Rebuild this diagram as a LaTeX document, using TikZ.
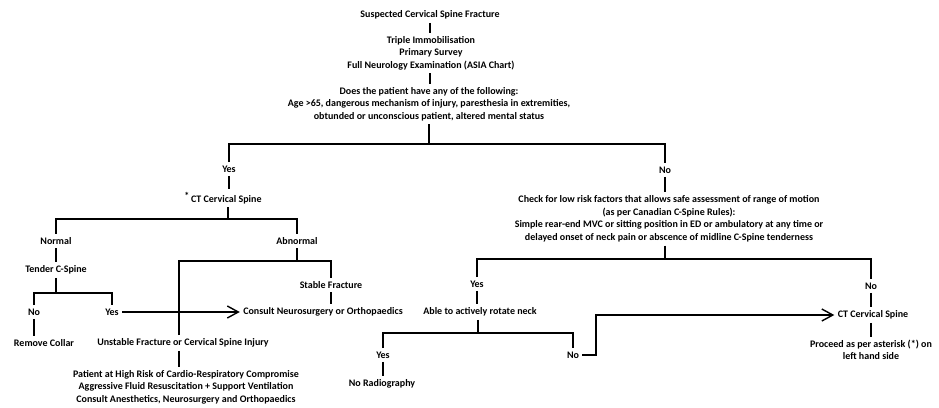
\documentclass[tikz,border=0pt]{standalone}
\usepackage{fontspec}
\setmainfont{Carlito}
\usetikzlibrary{arrows.meta,calc}

\begin{document}
\begin{tikzpicture}[x=1pt, y=-1pt,
  txt/.style={align=center, font=\fontsize{10}{12.5}\selectfont\bfseries, inner sep=2.5pt, outer sep=1pt},
  line/.style={line width=1.4pt},
  arrow/.style={line width=1.4pt, -{Straight Barb[length=11pt, width=12pt, line width=1.4pt]}},
]
\useasboundingbox (0,0) rectangle (939,407);

% === TOP ===
\node[txt] (susp) at (430,15) {Suspected Cervical Spine Fracture};
\node[txt] (triple) at (431,53) {Triple Immobilisation\\Primary Survey\\Full Neurology Examination (ASIA Chart)};
\node[txt] (ques) at (429,104) {Does the patient have any of the following:\\Age >65, dangerous mechanism of injury, paresthesia in extremities,\\obtunded or unconscious patient, altered mental status};

\coordinate (b1) at (429,144);
\draw[line] (susp) -- (susp |- triple.north);
\draw[line] (triple.south -| susp) -- (susp |- ques.north);
\draw[line] (ques) -- (b1);

% === LEFT: YES ===
\node[txt] (yes1) at (229,169) {Yes};
\node[txt] (ct1) at (223,198) {\raisebox{3pt}{*}\,CT Cervical Spine};
\node[txt] (normal) at (56,241) {Normal};
\node[txt] (abnormal) at (297,241) {Abnormal};
\node[txt] (tender) at (56,270) {Tender C-Spine};
\node[txt] (no1) at (34,312) {No};
\node[txt] (yes2) at (112,312) {Yes};
\node[txt] (remove) at (44,343) {Remove Collar};
\node[txt] (stable) at (331,285) {Stable Fracture};
\node[txt] (consult) at (323,312) {Consult Neurosurgery or Orthopaedics};
\node[txt] (unstable) at (183,343) {Unstable Fracture or Cervical Spine Injury};
\node[txt] (high) at (186,387) {Patient at High Risk of Cardio-Respiratory Compromise\\Aggressive Fluid Resuscitation + Support Ventilation\\Consult Anesthetics, Neurosurgery and Orthopaedics};

\coordinate (b2) at (228,219);
\coordinate (b3) at (297,261);
\coordinate (b3l) at (179,261);
\coordinate (b3r) at (331,261);
\coordinate (b4) at (56,293);

\draw[line] (yes1) -- (yes1 |- ct1.north);
\draw[line] (ct1.south -| b2) -- (b2);
\draw[line] (normal) |- (b2) -| (abnormal);
\draw[line] (normal) -- (tender);
\draw[line] (abnormal) -- (b3);
\draw[line] (unstable.north -| b3l) -- (b3l) -- (b3r) -- (stable);
\draw[line] (stable) -- (stable |- consult.north);
\draw[line] (unstable.south -| b3l) -- (b3l |- high.north);
\draw[line] (tender) -- (b4);
\draw[line] (no1) |- (b4) -| (yes2);
\draw[line] (no1) -- (no1 |- remove.north);
\draw[arrow] (yes2) -- (consult);

% === RIGHT: NO ===
\node[txt] (no2) at (665,170) {No};
\node[txt] (check) at (669,219) {Check for low risk factors that allows safe assessment of range of motion\\(as per Canadian C-Spine Rules):\\Simple rear-end MVC or sitting position in ED or ambulatory at any time or\\delayed onset of neck pain or abscence of midline C-Spine tenderness};
\node[txt] (yes3) at (477,284) {Yes};
\node[txt] (able) at (480,312) {Able to actively rotate neck};
\node[txt] (yes4) at (383,355) {Yes};
\node[txt] (norad) at (382,384) {No Radiography};
\node[txt] (no3) at (573,355) {No};
\node[txt] (no4) at (871,286) {No};
\node[txt] (ct2) at (873,315) {CT Cervical Spine};
\node[txt] (proceed) at (871,350) {Proceed as per asterisk (*) on\\left hand side};

\coordinate (b5) at (665,259);
\coordinate (b6) at (478,333);
\coordinate (k1) at (596,355);

\draw[line] (yes1) |- (b1) -| (no2);
\draw[line] (no2) -- (no2 |- check.north);
\draw[line] (check.south -| b5) -- (b5);
\draw[line] (yes3) |- (b5) -| (no4);
\draw[line] (yes3) -- (yes3 |- able.north);
\draw[line] (able.south -| b6) -- (b6);
\draw[line] (yes4) |- (b6) -| (no3);
\draw[line] (yes4) -- (yes4 |- norad.north);
\draw[arrow] (no3.east) -- (no3.east -| k1) |- (ct2);
\draw[line] (no4) -- (no4 |- ct2.north);
\draw[line] (ct2.south -| no4) -- (no4 |- proceed.north);
\end{tikzpicture}
\end{document}
